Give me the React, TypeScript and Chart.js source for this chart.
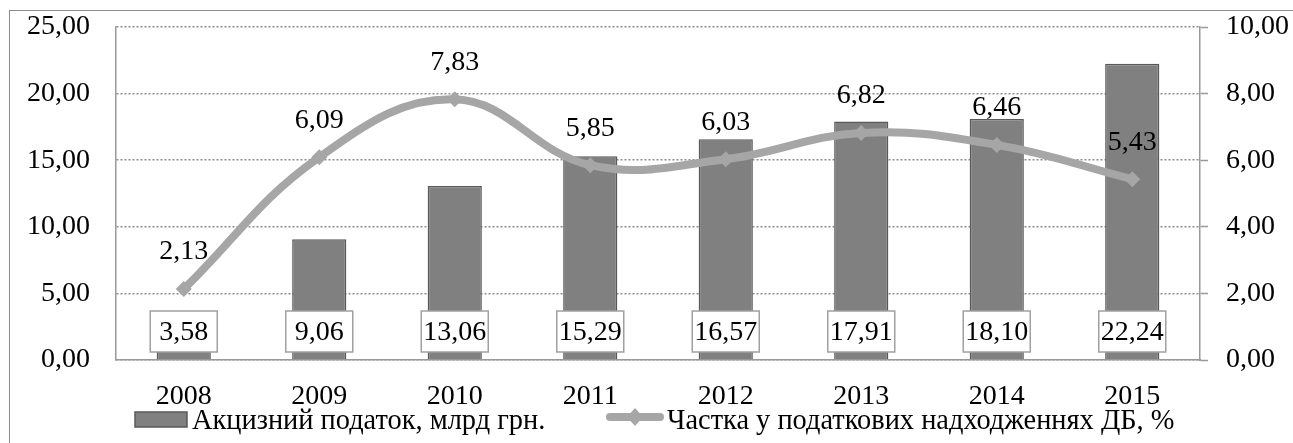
import React, { useEffect, useRef } from "react";
import { Chart, registerables } from "chart.js";

Chart.register(...registerables);

const categories = ["2008", "2009", "2010", "2011", "2012", "2013", "2014", "2015"];
const exciseTax = [3.58, 9.06, 13.06, 15.29, 16.57, 17.91, 18.1, 22.24];
const shareInTax = [2.13, 6.09, 7.83, 5.85, 6.03, 6.82, 6.46, 5.43];
const barLegend = "Акцизний податок, млрд грн.";
const lineLegend = "Частка у податкових надходженнях ДБ, %";

const FONT = '"Liberation Serif", "Times New Roman", serif';
const FS = 28;
const fmt = (v: number) => v.toFixed(2).replace(".", ",");

const labelsPlugin = {
  id: "customLabels",
  afterDatasetsDraw(chart: any) {
    const ctx = chart.ctx;
    const area = chart.chartArea;
    ctx.save();
    ctx.font = `${FS}px ${FONT}`;
    ctx.textAlign = "center";
    ctx.textBaseline = "middle";
    // bar value boxes
    const barMeta = chart.getDatasetMeta(0);
    barMeta.data.forEach((el: any, i: number) => {
      const w = 67, h = 41;
      const x = el.x - w / 2;
      const y = area.bottom - 8 - h;
      ctx.fillStyle = "#ffffff";
      ctx.fillRect(x, y, w, h);
      ctx.strokeStyle = "#a0a0a0";
      ctx.lineWidth = 1.5;
      ctx.strokeRect(x, y, w, h);
      ctx.fillStyle = "#000";
      ctx.fillText(fmt(exciseTax[i]), el.x, y + h / 2 + 1);
    });
    // line labels
    const lineMeta = chart.getDatasetMeta(1);
    lineMeta.data.forEach((el: any, i: number) => {
      ctx.fillStyle = "#000";
      ctx.fillText(fmt(shareInTax[i]), el.x, el.y - 37);
    });
    ctx.restore();
  },
  afterDraw(chart: any) {
    const ctx = chart.ctx;
    ctx.save();
    ctx.font = `28.4px ${FONT}`;
    ctx.textBaseline = "middle";
    ctx.textAlign = "left";
    // bar legend
    ctx.fillStyle = "#808080";
    ctx.fillRect(127, 404, 52, 15);
    ctx.strokeStyle = "#595959";
    ctx.lineWidth = 1.5;
    ctx.strokeRect(127, 404, 52, 15);
    ctx.fillStyle = "#000";
    ctx.fillText(barLegend, 184, 414);
    // line legend
    ctx.strokeStyle = "#a6a6a6";
    ctx.lineWidth = 8;
    ctx.lineCap = "round";
    ctx.beginPath();
    ctx.moveTo(602, 409);
    ctx.lineTo(652, 409);
    ctx.stroke();
    ctx.fillStyle = "#a6a6a6";
    ctx.beginPath();
    ctx.moveTo(627, 400);
    ctx.lineTo(635, 409);
    ctx.lineTo(627, 418);
    ctx.lineTo(619, 409);
    ctx.closePath();
    ctx.fill();
    ctx.fillStyle = "#000";
    ctx.fillText(lineLegend, 659, 414);
    ctx.restore();
  },
};

export default function App() {
  const ref = useRef<HTMLCanvasElement>(null);
  useEffect(() => {
    document.documentElement.style.overflow = "hidden";
    document.body.style.overflow = "hidden";
    const chart = new Chart(ref.current as HTMLCanvasElement, {
      type: "bar",
      data: {
        labels: categories,
        datasets: [
          {
            type: "bar",
            label: barLegend,
            data: exciseTax,
            backgroundColor: "#808080",
            borderColor: "#595959",
            borderWidth: 1.5,
            barPercentage: 0.4,
            categoryPercentage: 1,
            yAxisID: "y",
            order: 1,
          },
          {
            type: "line",
            label: lineLegend,
            data: shareInTax,
            borderColor: "#a6a6a6",
            backgroundColor: "#a6a6a6",
            borderWidth: 8,
            tension: 0.4,
            pointStyle: "rectRot",
            pointRadius: 8,
            pointBorderWidth: 0,
            pointBackgroundColor: "#a6a6a6",
            yAxisID: "y1",
            order: 0,
          } as any,
        ],
      },
      options: {
        animation: false,
        responsive: false,
        layout: { padding: { top: 19, left: 0, right: 0, bottom: 0 } },
        plugins: { legend: { display: false }, tooltip: { enabled: false } },
        scales: {
          x: {
            grid: { display: false, drawTicks: false },
            border: { display: true, color: "#999", width: 1.5 },
            ticks: { color: "#000", font: { family: FONT, size: FS }, padding: 20 },
            afterFit(s: any) {
              s.height = 83;
            },
          },
          y: {
            position: "left",
            min: 0,
            max: 25,
            ticks: {
              stepSize: 5,
              color: "#000",
              font: { family: FONT, size: FS },
              padding: 26,
              callback: (v: any) => fmt(Number(v)),
            },
            grid: { color: "#8c8c8c", lineWidth: 1.5, drawTicks: false },
            border: { display: true, color: "#999", width: 1.5, dash: [2, 2] },
            afterFit(s: any) {
              s.width = 108;
              s.paddingTop = 0;
              s.paddingBottom = 0;
            },
          },
          y1: {
            position: "right",
            min: 0,
            max: 10,
            ticks: {
              stepSize: 2,
              color: "#000",
              font: { family: FONT, size: FS },
              padding: 18,
              callback: (v: any) => fmt(Number(v)),
            },
            grid: {
              drawOnChartArea: false,
              drawTicks: true,
              tickLength: 8,
              tickColor: "#999",
              tickWidth: 1.5,
            },
            border: { display: true, color: "#999", width: 1.5 },
            afterFit(s: any) {
              s.width = 93;
              s.paddingTop = 0;
              s.paddingBottom = 0;
            },
          },
        },
      } as any,
      plugins: [labelsPlugin],
    });
    return () => chart.destroy();
  }, []);
  return (
    <div style={{ position: "fixed", left: 8, top: 8, width: 1285, height: 435, overflow: "hidden" }}>
      <div
        style={{
          position: "absolute",
          left: 1,
          top: 2,
          width: 1284,
          height: 433,
          boxSizing: "border-box",
          borderLeft: "1px solid #8c8c8c",
          borderTop: "1px solid #8c8c8c",
          pointerEvents: "none",
        }}
      />
      <canvas ref={ref} width={1285} height={435} style={{ display: "block", position: "relative" }} />
    </div>
  );
}
